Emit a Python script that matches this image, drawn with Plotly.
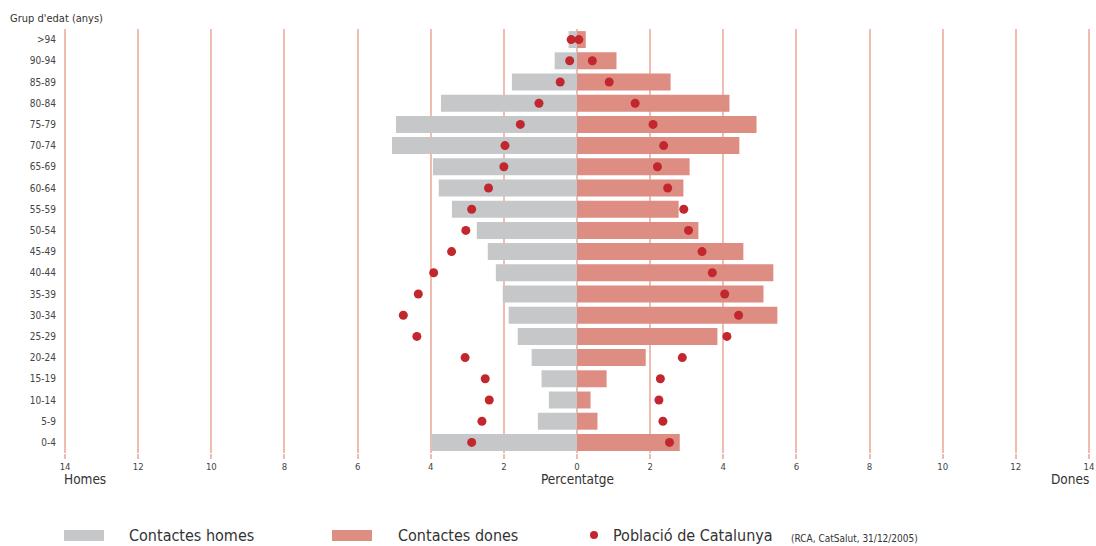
import plotly.graph_objects as go

age_groups = [">94", "90-94", "85-89", "80-84", "75-79", "70-74", "65-69", "60-64",
              "55-59", "50-54", "45-49", "40-44", "35-39", "30-34", "25-29", "20-24",
              "15-19", "10-14", "5-9", "0-4"]
contacts_men = [0.23, 0.61, 1.78, 3.72, 4.95, 5.06, 3.94, 3.78, 3.42, 2.74, 2.44,
                2.22, 2.03, 1.87, 1.62, 1.24, 0.97, 0.77, 1.07, 3.98]
contacts_women = [0.24, 1.08, 2.56, 4.17, 4.91, 4.44, 3.08, 2.91, 2.78, 3.32, 4.55,
                  5.37, 5.10, 5.48, 3.84, 1.88, 0.81, 0.37, 0.56, 2.81]
pop_men = [0.16, 0.20, 0.46, 1.04, 1.55, 1.97, 2.00, 2.42, 2.88, 3.04, 3.43,
           3.92, 4.34, 4.75, 4.38, 3.06, 2.51, 2.40, 2.60, 2.88]
pop_women = [0.05, 0.42, 0.88, 1.59, 2.08, 2.37, 2.20, 2.48, 2.92, 3.05, 3.42,
             3.70, 4.04, 4.42, 4.10, 2.88, 2.28, 2.24, 2.35, 2.53]
tick_vals = list(range(-14, 15, 2))
tick_text = [str(abs(v)) for v in tick_vals]

FONT = "DejaVu Sans Condensed, Liberation Sans Narrow, Roboto, sans-serif"
GRAY = "#c6c7c9"
PINK = "#dd8d82"
RED = "#c1272d"
GRID = "#efbcb2"
TXT = "#333333"

W, H = 1096, 546
L, R, T, B = 64, 6, 29, 93

fig = go.Figure()
fig.add_trace(go.Bar(y=age_groups, x=[-v for v in contacts_men], orientation="h",
                     marker=dict(color=GRAY, line=dict(width=0)), width=0.8,
                     name="Contactes homes", showlegend=False))
fig.add_trace(go.Bar(y=age_groups, x=contacts_women, orientation="h",
                     marker=dict(color=PINK, line=dict(width=0)), width=0.8,
                     name="Contactes dones", showlegend=False))
fig.add_trace(go.Scatter(y=age_groups, x=[-v for v in pop_men], mode="markers",
                         marker=dict(color=RED, size=9), showlegend=False))
fig.add_trace(go.Scatter(y=age_groups, x=pop_women, mode="markers",
                         marker=dict(color=RED, size=9), showlegend=False))

fig.update_layout(
    width=W, height=H,
    margin=dict(l=L, r=R, t=T, b=B),
    paper_bgcolor="white", plot_bgcolor="white",
    barmode="overlay",
    font=dict(family=FONT, color=TXT),
    xaxis=dict(range=[-14.03, 14.03], tickvals=tick_vals, ticktext=tick_text,
               showgrid=True, gridcolor=GRID, gridwidth=2,
               zeroline=True, zerolinecolor=GRID, zerolinewidth=2,
               ticks="outside", ticklen=5, tickcolor=GRID, tickwidth=2,
               tickfont=dict(size=9.5, color="#444444"), showline=False,
               automargin=False, fixedrange=True),
    yaxis=dict(categoryorder="array", categoryarray=age_groups[::-1],
               range=[-0.5, len(age_groups) - 0.5],
               showgrid=False, zeroline=False, showline=False,
               tickfont=dict(size=10, color="#444444"), ticklabelstandoff=7,
               automargin=False, fixedrange=True),
)


def px_x(p):
    return (p - L) / (W - L - R)


def px_y(p):
    return (H - B - p) / (H - T - B)


fig.add_annotation(text="Grup d'edat (anys)", xref="paper", yref="paper",
                   x=px_x(8), y=px_y(18), xanchor="left", yanchor="middle",
                   showarrow=False, font=dict(size=11, color=TXT))
fig.add_annotation(text="Homes", xref="paper", yref="paper", x=px_x(62), y=px_y(479),
                   xanchor="left", yanchor="middle", showarrow=False,
                   font=dict(size=13.5, color=TXT))
fig.add_annotation(text="Percentatge", xref="x", yref="paper", x=0, y=px_y(479),
                   xanchor="center", yanchor="middle", showarrow=False,
                   font=dict(size=13.5, color=TXT))
fig.add_annotation(text="Dones", xref="paper", yref="paper", x=px_x(1091), y=px_y(479),
                   xanchor="right", yanchor="middle", showarrow=False,
                   font=dict(size=13.5, color=TXT))

# custom legend
fig.add_shape(type="rect", xref="paper", yref="paper", x0=px_x(64), x1=px_x(104),
              y0=px_y(541), y1=px_y(530), fillcolor=GRAY, line=dict(width=0))
fig.add_shape(type="rect", xref="paper", yref="paper", x0=px_x(332), x1=px_x(372),
              y0=px_y(541), y1=px_y(530), fillcolor=PINK, line=dict(width=0))
fig.add_shape(type="circle", xref="paper", yref="paper", x0=px_x(590), x1=px_x(598),
              y0=px_y(539), y1=px_y(531), fillcolor=RED, line=dict(width=0))
for txt, xp, sz, yp in [("Contactes homes", 127, 16, 535), ("Contactes dones", 396, 16, 535),
                        ("Població de Catalunya", 611, 16, 535),
                        ("(RCA, CatSalut, 31/12/2005)", 789, 10, 538)]:
    fig.add_annotation(text=txt, xref="paper", yref="paper", x=px_x(xp), y=px_y(yp),
                       xanchor="left", yanchor="middle", showarrow=False,
                       font=dict(size=sz, color=TXT))

fig.write_html("out.html", config={"displayModeBar": False},
               post_script="document.body.style.margin='0';document.body.style.overflow='hidden';")
